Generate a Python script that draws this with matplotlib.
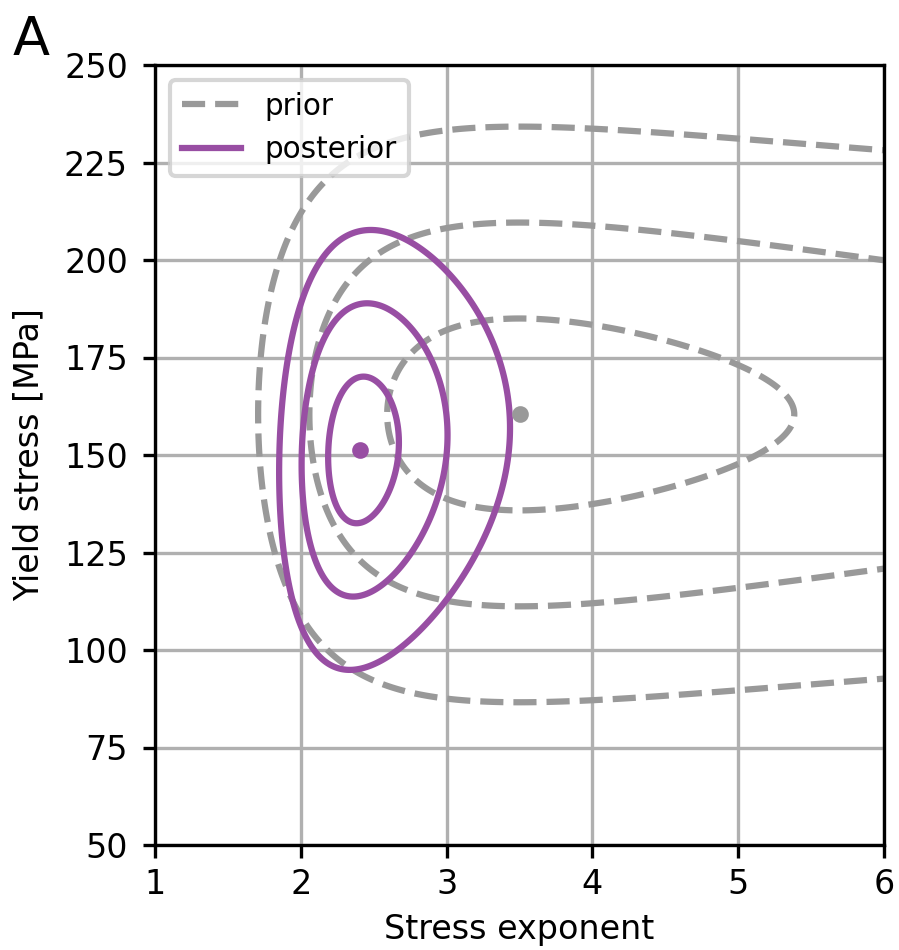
import numpy as np
import matplotlib
matplotlib.use("Agg")
import matplotlib.pyplot as plt
from matplotlib.lines import Line2D

# ---- distribution parameters ----
# Gaussian in (1/stress exponent, yield stress)
prior_mean_n = 3.5          # stress exponent
prior_mean_sigma = 160.4    # yield stress [MPa]
prior_sd_inv_n = 0.100
prior_sd_sigma = 24.6
prior_rho = 0.0

post_mean_n = 2.406
post_mean_sigma = 151.3
post_sd_inv_n = 0.0415
post_sd_sigma = 18.8
post_rho = -0.10

contour_sd_levels = [1, 2, 3]   # Mahalanobis distances of the contours

x_ticks = [1, 2, 3, 4, 5, 6]
y_ticks = [50, 75, 100, 125, 150, 175, 200, 225, 250]

prior_color = "#999999"
post_color = "#984ea3"

plt.rcParams["font.family"] = ["DejaVu Sans"]
plt.rcParams["font.size"] = 8

fig = plt.figure(figsize=(899 / 300, 950 / 300), dpi=300)
ax = fig.add_axes([155 / 899, 1 - 845 / 950, (884 - 155) / 899, (845 - 65) / 950])

xg = np.linspace(1.0, 6.6, 700)
yg = np.linspace(40, 260, 700)
X, Y = np.meshgrid(xg, yg)
U = 1.0 / X


def mahal2(mn, ms, su, ss, rho):
    du = (U - 1.0 / mn) / su
    dy = (Y - ms) / ss
    return (du ** 2 - 2 * rho * du * dy + dy ** 2) / (1 - rho ** 2)


levels = [k ** 2 for k in contour_sd_levels]
D_prior = mahal2(prior_mean_n, prior_mean_sigma, prior_sd_inv_n, prior_sd_sigma, prior_rho)
D_post = mahal2(post_mean_n, post_mean_sigma, post_sd_inv_n, post_sd_sigma, post_rho)

ax.contour(X, Y, D_prior, levels=levels, colors=prior_color, linestyles="--", linewidths=1.5)
ax.contour(X, Y, D_post, levels=levels, colors=post_color, linestyles="-", linewidths=1.5)

ax.plot([prior_mean_n], [prior_mean_sigma], "o", color=prior_color, markersize=3)
ax.plot([post_mean_n], [post_mean_sigma], "o", color=post_color, markersize=3)

ax.set_xlim(1, 6)
ax.set_ylim(50, 250)
ax.set_xticks(x_ticks)
ax.set_yticks(y_ticks)
ax.tick_params(axis="both", length=3, labelsize=8)
ax.tick_params(axis="x", pad=2.5)
ax.grid(True, color="#b0b0b0", linewidth=0.8)
ax.set_axisbelow(True)
ax.set_xlabel("Stress exponent", fontsize=8, labelpad=3)
ax.set_ylabel("Yield stress [MPa]", fontsize=8, labelpad=4.5)

handles = [
    Line2D([], [], color=prior_color, linestyle="--", linewidth=1.5),
    Line2D([], [], color=post_color, linestyle="-", linewidth=1.5),
]
ax.legend(handles, ["prior", "posterior"], loc="upper left", fontsize=7.1)

fig.text(13 / 899, 1 - 55 / 950, "A", fontsize=13, va="baseline", ha="left")

fig.savefig("out.png", dpi=300)
